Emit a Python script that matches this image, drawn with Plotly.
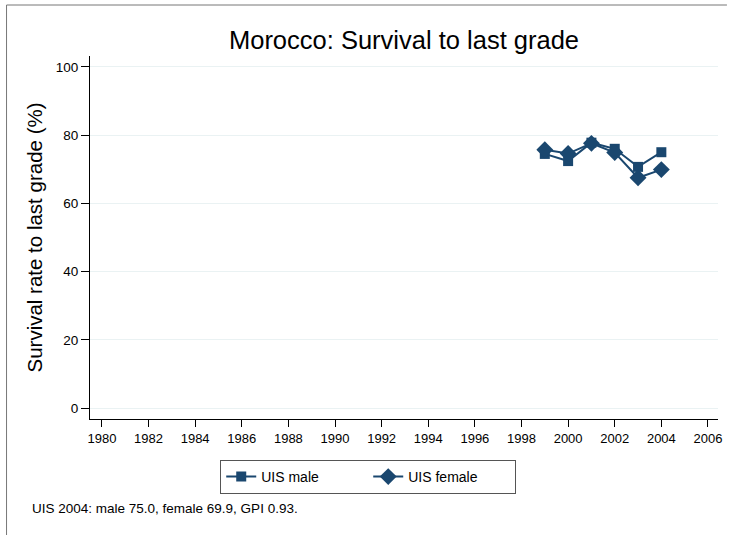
import plotly.graph_objects as go

years = [1999, 2000, 2001, 2002, 2003, 2004]
male = [74.5, 72.4, 77.8, 76.0, 70.7, 75.0]
female = [75.7, 74.6, 77.6, 74.9, 67.5, 69.9]
x_ticks = list(range(1980, 2007, 2))
y_ticks = [0, 20, 40, 60, 80, 100]

navy = "#1a476f"
fig = go.Figure()
fig.add_trace(go.Scatter(x=years, y=male, mode="lines+markers", name="UIS male",
                         line=dict(color=navy, width=2),
                         marker=dict(symbol="square", size=10, color=navy)))
fig.add_trace(go.Scatter(x=years, y=female, mode="lines+markers", name="UIS female",
                         line=dict(color=navy, width=2),
                         marker=dict(symbol="diamond", size=13, color=navy)))

W, H = 731, 535
L, R, T, B = 90, 9, 56, 116
pw, ph = W - L - R, H - T - B

def px(x):
    return (x - L) / pw

def py(y):
    return (H - B - y) / ph

fig.update_layout(
    width=W, height=H,
    margin=dict(l=L, r=R, t=T, b=B),
    paper_bgcolor="white", plot_bgcolor="white",
    font=dict(family="Liberation Sans, Arial, sans-serif", color="black", size=13),
    title=dict(text="Morocco: Survival to last grade", x=px(406), xref="paper",
               xanchor="center", y=1 - 40 / H, yanchor="middle",
               font=dict(size=25.5, color="black")),
    showlegend=True,
    legend=dict(orientation="h", x=px(370), y=py(460), xanchor="center", yanchor="top",
                bordercolor="#555555", borderwidth=1, font=dict(size=14),
                entrywidth=102, entrywidthmode="pixels", tracegroupgap=0),
    xaxis=dict(range=[1979.49, 2006.43], tickmode="array", tickvals=x_ticks,
               ticks="outside", ticklen=7, tickcolor="black", showline=True,
               linecolor="black", linewidth=1, showgrid=False, zeroline=False,
               tickfont=dict(size=13)),
    yaxis=dict(range=[-3.2, 103.2], tickmode="array", tickvals=y_ticks,
               ticks="outside", ticklen=8, tickcolor="black", showline=True,
               linecolor="black", linewidth=1, showgrid=True, gridcolor="#eaf2f3",
               gridwidth=1, zeroline=False, tickfont=dict(size=13.5),
               title=dict(text="Survival rate to last grade (%)", font=dict(size=20.5),
                          standoff=7)),
    annotations=[dict(text="UIS 2004: male 75.0, female 69.9, GPI 0.93.",
                      xref="paper", yref="paper", x=px(30), y=py(508),
                      xanchor="left", yanchor="middle", showarrow=False,
                      font=dict(size=13.5, color="black"))],
    shapes=[
        dict(type="line", xref="paper", yref="paper", x0=px(6), x1=px(731),
             y0=py(5), y1=py(5), line=dict(color="#777777", width=1)),
        dict(type="line", xref="paper", yref="paper", x0=px(6), x1=px(6),
             y0=py(5), y1=py(535), line=dict(color="#777777", width=1)),
    ],
)

fig.write_html("out.html", config={"displayModeBar": False},
               post_script="document.body.style.margin='0px';")
